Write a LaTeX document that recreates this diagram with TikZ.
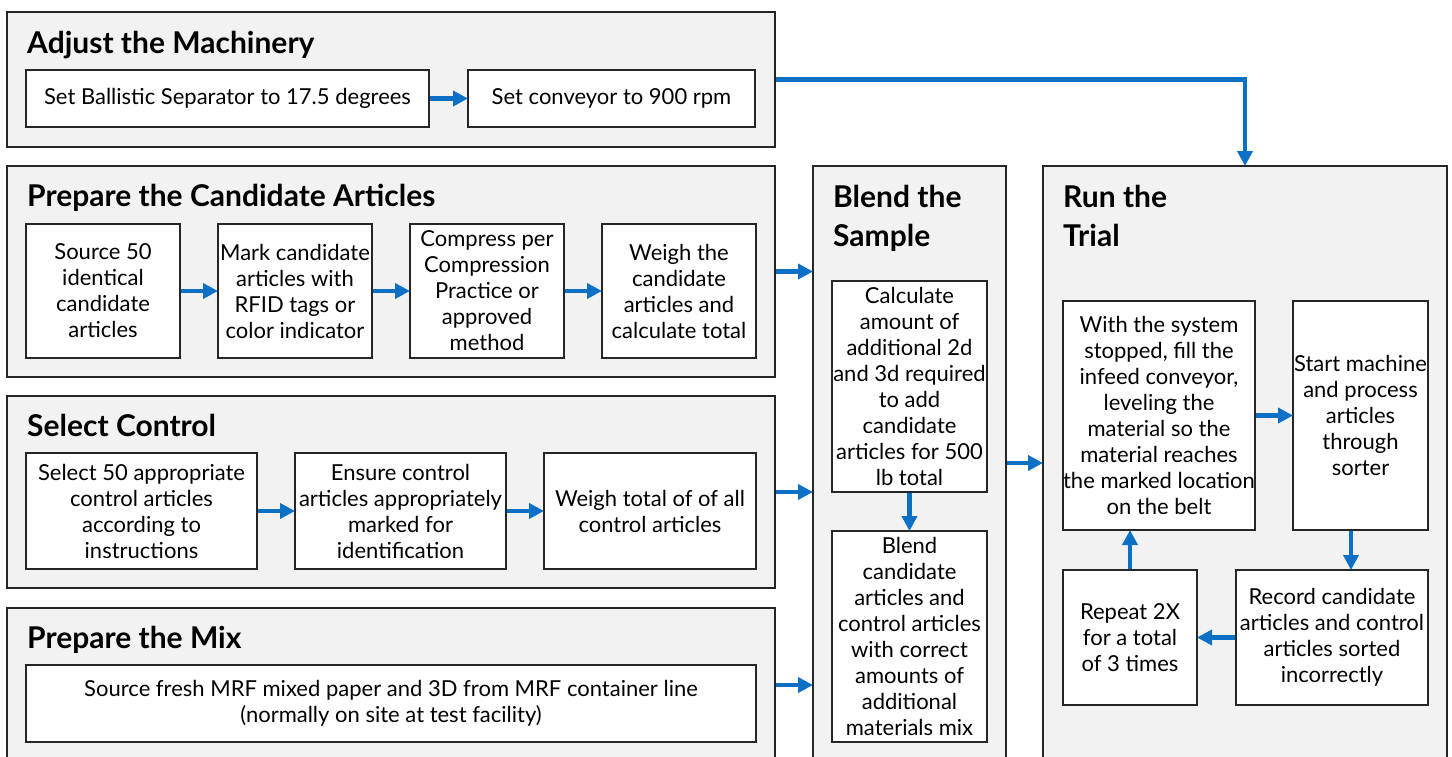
\documentclass[tikz,border=0pt]{standalone}
\usepackage{fontspec}
\setmainfont{Lato}
\usetikzlibrary{arrows.meta}
\definecolor{arrblue}{RGB}{12,112,199}
\definecolor{grpfill}{RGB}{242,242,242}
\definecolor{edge}{RGB}{38,38,38}
\tikzset{
  grp/.style={draw=edge, line width=2pt, fill=grpfill, inner sep=0pt, minimum width=#1},
  grp/.default=768pt,
  box/.style={draw=edge, line width=2pt, fill=white, inner sep=0pt, align=center,
    font=\fontsize{22}{26}\selectfont},
  ttl/.style={anchor=base west, inner sep=0pt, align=left,
    font=\fontsize{30}{39}\selectfont\bfseries},
  arr/.style={draw=arrblue, line width=4.5pt,
    -{Triangle[length=15pt,width=15pt]}, shorten >=-1pt},
}
\begin{document}
\begin{tikzpicture}[x=1pt,y=-1pt]
\useasboundingbox (0,0) rectangle (1452,756);
\clip (0,0) rectangle (1452,756);
% groups
\node[grp, minimum height=135pt] (g1) at (391,79.5) {};
\node[grp, minimum height=211pt] (g2) at (391,271.5) {};
\node[grp, minimum height=192pt] (g3) at (391,492) {};
\node[grp, minimum height=154pt] (g4) at (391,685) {};
\node[grp=193pt, minimum height=594pt] (blend) at (909.5,463) {};
\node[grp=404pt, minimum height=594pt] (run) at (1245,463) {};
% titles
\node[ttl] (t1) at (27,53) {Adjust the Machinery};
\node[ttl] (t2) at (27,206) {Prepare the Candidate Articles};
\node[ttl] (t3) at (27,436) {Select Control};
\node[ttl] (t4) at (27,648) {Prepare the Mix};
\node[ttl] (t5) at (833,246) {Blend the\\Sample};
\node[ttl] (t6) at (1063,246) {Run the\\Trial};
% group 1
\node[box, minimum width=403pt, minimum height=57pt] (a1) at (227.5,98.5) {Set Ballistic Separator to 17.5 degrees};
\node[box, minimum width=287pt, minimum height=57pt] (a2) at (611.5,98.5) {Set conveyor to 900 rpm};
% group 2
\node[box, minimum width=154pt, minimum height=134pt] (c1) at (103,291) {Source 50\\identical\\candidate\\articles};
\node[box, minimum width=154pt, minimum height=134pt] (c2) at (295,291) {Mark candidate\\articles with\\RFID tags or\\color indicator};
\node[box, minimum width=154pt, minimum height=134pt] (c3) at (487,291) {Compress per\\Compression\\Practice or\\approved\\method};
\node[box, minimum width=154pt, minimum height=134pt] (c4) at (679,291) {Weigh the\\candidate\\articles and\\calculate total};
% group 3
\node[box, minimum width=231pt, minimum height=116pt] (s1) at (141.5,511) {Select 50 appropriate\\control articles\\according to\\instructions};
\node[box, minimum width=211pt, minimum height=116pt] (s2) at (400.5,511) {Ensure control\\articles appropriately\\marked for\\identification};
\node[box, minimum width=212pt, minimum height=116pt] (s3) at (650,511) {Weigh total of of all\\control articles};
% group 4
\node[box, minimum width=730pt, minimum height=77pt] (m1) at (391,703.5) {Source fresh MRF mixed paper and 3D from MRF container line\\(normally on site at test facility)};
% blend
\node[box, minimum width=155pt, minimum height=211pt] (b1) at (909.5,386.5) {Calculate\\amount of\\additional 2d\\and 3d required\\to add\\candidate\\articles for 500\\lb total};
\node[box, minimum width=155pt, minimum height=211pt] (b2) at (909.5,636.5) {Blend\\candidate\\articles and\\control articles\\with correct\\amounts of\\additional\\materials mix};
% run
\node[box, minimum width=192pt, minimum height=229pt] (r1) at (1159,415.5) {With the system\\stopped, fill the\\infeed conveyor,\\leveling the\\material so the\\material reaches\\the marked location\\on the belt};
\node[box, minimum width=135pt, minimum height=229pt] (r2) at (1360.5,415.5) {Start machine\\and process\\articles\\through\\sorter};
\node[box, minimum width=192pt, minimum height=135pt] (r3) at (1332,637.5) {Record candidate\\articles and control\\articles sorted\\incorrectly};
\node[box, minimum width=134pt, minimum height=135pt] (r4) at (1130,637.5) {Repeat 2X\\for a total\\of 3 times};
% arrows
\draw[arr] (a1.east) -- (a2.west);
\draw[arr] (c1.east) -- (c2.west);
\draw[arr] (c2.east) -- (c3.west);
\draw[arr] (c3.east) -- (c4.west);
\draw[arr] (s1.east) -- (s2.west);
\draw[arr] (s2.east) -- (s3.west);
\draw[arr] (g1.east) -| (run.north);
\draw[arr] (g2.east) -- (g2.east -| blend.west);
\draw[arr] (g3.east) -- (g3.east -| blend.west);
\draw[arr] (g4.east) -- (g4.east -| blend.west);
\draw[arr] (blend.east) -- (run.west);
\draw[arr] (b1.south) -- (b2.north);
\draw[arr] (r1.east) -- (r2.west);
\draw[arr] ([xshift=-9.5pt]r2.south) -- ([xshift=-9.5pt]r2.south |- r3.north);
\draw[arr] (r3.west) -- (r4.east);
\draw[arr] (r4.north) -- (r4.north |- r1.south);
\end{tikzpicture}
\end{document}
